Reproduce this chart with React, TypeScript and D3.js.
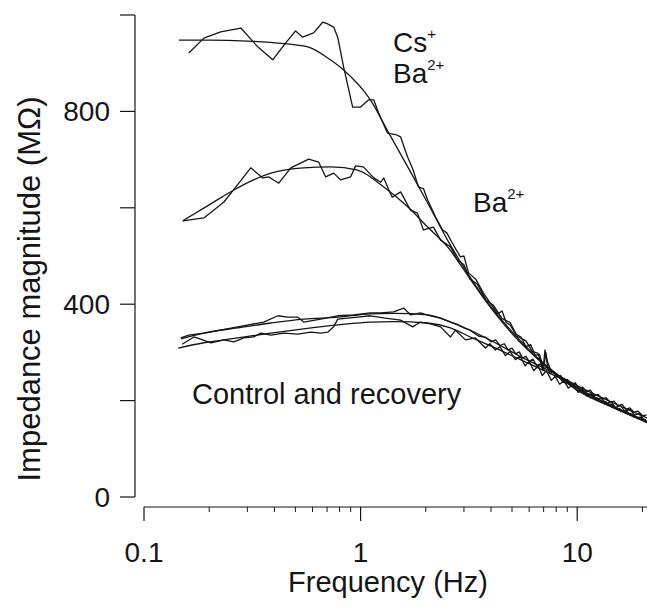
import React from "react";
import * as d3 from "d3";

type Pt = [number, number];

// Frequency (Hz), impedance magnitude (MΩ)
const csBaFit: Pt[] = [
  [0.145, 948], [0.2, 948], [0.3, 946], [0.385, 943], [0.5, 938], [0.588, 932], [0.7, 912],
  [0.835, 886], [1.11, 824], [1.35, 755], [1.65, 685], [2.04, 610], [2.52, 533],
  [3.11, 465], [3.69, 415], [5.07, 340], [6.97, 278], [10.3, 222], [14.7, 187], [21, 156],
];
const csBaData: Pt[] = [
  [0.161, 921], [0.189, 952], [0.226, 965], [0.28, 973], [0.335, 934], [0.393, 907],
  [0.451, 942], [0.501, 967], [0.54, 954], [0.607, 963], [0.668, 985], [0.7, 982],
  [0.751, 975], [0.784, 954], [0.835, 892], [0.919, 809], [1.0, 809], [1.09, 824],
  [1.15, 824], [1.21, 797], [1.33, 755], [1.45, 752], [1.53, 747], [1.65, 705], [1.75, 678],
  [1.85, 643], [1.95, 640], [2.04, 616], [2.22, 581], [2.39, 554], [2.5, 548], [2.65, 527], [2.89, 498],
  [3.0, 500], [3.15, 465], [3.4, 452], [3.69, 423], [4.0, 400], [4.3, 380], [4.5, 386], [4.7, 362],
  [4.9, 357], [5.2, 338], [5.5, 332], [5.8, 312], [6.1, 316], [6.4, 294], [6.7, 296],
  [7.0, 265], [7.15, 300], [7.3, 270], [7.7, 262], [8.2, 248], [8.8, 244], [9.4, 230],
  [10, 230], [10.8, 214], [11.6, 213], [12.5, 199], [13.5, 198], [14.5, 186], [15.6, 184],
  [16.8, 174], [18, 172], [19.3, 162], [20.8, 160],
];
const baFit: Pt[] = [
  [0.151, 573], [0.2, 606], [0.26, 637], [0.385, 672], [0.546, 683], [0.728, 685],
  [0.969, 678], [1.28, 643], [1.65, 602], [2.04, 560], [2.52, 519], [3.11, 461],
  [3.69, 413], [5.07, 336], [6.97, 276], [10.3, 218], [14.7, 185], [21, 155],
];
const baData: Pt[] = [
  [0.151, 573], [0.189, 579], [0.234, 612], [0.274, 651], [0.311, 683], [0.353, 662],
  [0.377, 664], [0.419, 651], [0.476, 683], [0.576, 701], [0.64, 695], [0.69, 664],
  [0.751, 672], [0.809, 658], [0.899, 664], [0.948, 687], [1.03, 685], [1.15, 662],
  [1.24, 653], [1.28, 662], [1.35, 637], [1.4, 622], [1.53, 633], [1.7, 595],
  [1.83, 589], [1.95, 554], [2.17, 560], [2.34, 533], [2.6, 519], [2.8, 492], [3.0, 482],
  [3.2, 452], [3.45, 442], [3.8, 408], [4.1, 398], [4.5, 370], [4.9, 362], [5.3, 333],
  [5.8, 324], [6.2, 302], [6.6, 298], [6.95, 262], [7.1, 305], [7.3, 280], [7.6, 260],
  [8.1, 254], [8.6, 238], [9.2, 236], [9.9, 222], [10.6, 220], [11.5, 206], [12.4, 205],
  [13.4, 193], [14.4, 192], [15.6, 180], [16.9, 178], [18.3, 166], [19.7, 165], [20.9, 156],
];
const ctrlFitA: Pt[] = [
  [0.148, 328], [0.189, 340], [0.271, 351], [0.385, 361], [0.546, 369], [0.784, 373],
  [1.11, 380], [1.42, 381], [2.04, 378], [2.6, 363], [3.21, 346], [4.1, 322],
  [5.29, 295], [6.54, 274], [8.36, 250], [10.3, 228], [14.7, 195], [21, 164],
];
const ctrlFitB: Pt[] = [
  [0.144, 309], [0.189, 320], [0.271, 330], [0.385, 340], [0.546, 349], [0.784, 357],
  [1.11, 363], [1.42, 364], [2.04, 361], [2.6, 351], [3.21, 332], [4.1, 311],
  [5.29, 288], [6.75, 266], [8.36, 246], [11.5, 212], [15.8, 180], [21, 154],
];
const ctrlDataA: Pt[] = [
  [0.148, 330], [0.161, 336], [0.189, 340], [0.271, 353], [0.357, 363], [0.415, 376],
  [0.461, 373], [0.513, 373], [0.546, 363], [0.654, 369], [0.784, 376], [0.929, 378],
  [1.11, 382], [1.24, 382], [1.42, 384], [1.58, 392], [1.7, 378], [1.89, 382],
  [2.1, 376], [2.34, 371], [2.6, 363], [2.8, 358], [3.0, 351], [3.2, 346], [3.5, 334],
  [3.8, 331], [4.0, 322], [4.2, 326], [4.4, 314], [4.6, 318], [4.8, 305], [5.0, 309],
  [5.2, 297], [5.4, 301], [5.6, 288], [5.8, 292], [6.0, 281], [6.25, 286], [6.5, 272],
  [6.75, 276], [7.0, 265], [7.25, 270], [7.5, 256], [7.8, 260], [8.1, 248], [8.4, 252],
  [8.7, 240], [9.0, 244], [9.4, 233], [9.8, 237], [10.2, 225], [10.6, 228], [11, 218],
  [11.5, 222], [12, 210], [12.5, 213], [13, 203], [13.6, 206], [14.2, 196], [14.8, 199],
  [15.4, 189], [16.1, 192], [16.8, 182], [17.5, 185], [18.3, 176], [19.1, 178], [20, 169],
  [20.9, 170],
];
const ctrlDataB: Pt[] = [
  [0.15, 317], [0.17, 332], [0.204, 320], [0.234, 326], [0.26, 322], [0.289, 330],
  [0.321, 332], [0.346, 340], [0.385, 336], [0.442, 340], [0.513, 338], [0.588, 342],
  [0.654, 340], [0.705, 342], [0.751, 353], [0.784, 369], [0.871, 371], [0.969, 373],
  [1.11, 376], [1.3, 371], [1.53, 367], [1.74, 353], [1.89, 363], [2.1, 359],
  [2.34, 353], [2.6, 332], [2.74, 346], [3.05, 326], [3.39, 330], [3.77, 309],
  [3.95, 318], [4.19, 305], [4.4, 312], [4.66, 293], [4.9, 302], [5.18, 285], [5.45, 292],
  [5.75, 272], [6.0, 282], [6.3, 262], [6.6, 272], [6.9, 252], [7.2, 262], [7.6, 242],
  [7.9, 250], [8.3, 234], [8.7, 241], [9.1, 226], [9.6, 233], [10.1, 217], [10.6, 223],
  [11.1, 209], [11.7, 215], [12.3, 201], [12.9, 206], [13.6, 193], [14.3, 198], [15, 186],
  [15.8, 190], [16.6, 178], [17.5, 182], [18.4, 170], [19.3, 173], [20.2, 162], [20.9, 158],
];

const yTicks = [0, 200, 400, 600, 800, 1000];
const yLabels = [0, 400, 800];
const xMajor = [0.1, 1, 10];
const xMinor = [0.2, 0.3, 0.4, 0.5, 0.6, 0.7, 0.8, 0.9, 2, 3, 4, 5, 6, 7, 8, 9, 20];
const xLabels = ["0.1", "1", "10"];

const FONT = "'Liberation Sans', Arial, Helvetica, sans-serif";
const INK = "#151515";

export default function App() {
  const W = 647, H = 609;
  const x = d3.scaleLog().domain([0.1, 21]).range([144, 647]);
  const y = d3.scaleLinear().domain([0, 1000]).range([497, 15]);
  const axisX = 135;
  const axisY = 507;

  const smooth = d3.line<Pt>().x((d) => x(d[0])).y((d) => y(d[1])).curve(d3.curveMonotoneX);
  const raw = d3.line<Pt>().x((d) => x(d[0])).y((d) => y(d[1]));

  const fits = [csBaFit, baFit, ctrlFitA, ctrlFitB];
  const datas = [csBaData, baData, ctrlDataA, ctrlDataB];

  return (
    <svg
      width={W}
      height={H}
      viewBox={`0 0 ${W} ${H}`}
      style={{ position: "absolute", left: 0, top: 0, background: "#fff" }}
      fontFamily={FONT}
    >
      <rect width={W} height={H} fill="#fff" />
      {/* Y axis */}
      <line x1={axisX} x2={axisX} y1={y(1000)} y2={y(0)} stroke={INK} strokeWidth={1.2} />
      {yTicks.map((t) => (
        <line key={t} x1={axisX - 15} x2={axisX} y1={y(t)} y2={y(t)} stroke={INK} strokeWidth={1.2} />
      ))}
      {yLabels.map((t) => (
        <text key={t} x={110} y={y(t)} dy="0.36em" textAnchor="end" fontSize={28} fill={INK}>
          {t}
        </text>
      ))}
      <text
        transform={`translate(40, 289) rotate(-90)`}
        textAnchor="middle"
        fontSize={31}
        fill={INK}
      >
        Impedance magnitude (MΩ)
      </text>

      {/* X axis */}
      <line x1={x(0.1)} x2={647} y1={axisY} y2={axisY} stroke={INK} strokeWidth={1.2} />
      {xMajor.map((t) => (
        <line key={t} x1={x(t)} x2={x(t)} y1={axisY} y2={axisY + 14} stroke={INK} strokeWidth={1.2} />
      ))}
      {xMinor.map((t) => (
        <line key={t} x1={x(t)} x2={x(t)} y1={axisY} y2={axisY + 5} stroke={INK} strokeWidth={1} />
      ))}
      {xMajor.map((t, i) => (
        <text key={t} x={x(t)} y={562} textAnchor="middle" fontSize={28} fill={INK}>
          {xLabels[i]}
        </text>
      ))}
      <text x={388} y={592} textAnchor="middle" fontSize={29} fill={INK}>
        Frequency (Hz)
      </text>

      {/* Curves */}
      {datas.map((d, i) => (
        <path key={"d" + i} d={raw(d) || ""} fill="none" stroke={INK} strokeWidth={1.3} strokeLinejoin="round" />
      ))}
      {fits.map((d, i) => (
        <path key={"f" + i} d={smooth(d) || ""} fill="none" stroke={INK} strokeWidth={1.3} />
      ))}

      {/* Labels */}
      <text x={393} y={52} fontSize={28} fill={INK}>
        Cs<tspan fontSize={15} dy={-13}>+</tspan>
      </text>
      <text x={393} y={83} fontSize={28} fill={INK}>
        Ba<tspan fontSize={15} dy={-13}>2+</tspan>
      </text>
      <text x={473} y={212} fontSize={28} fill={INK}>
        Ba<tspan fontSize={15} dy={-13}>2+</tspan>
      </text>
      <text x={192} y={404} fontSize={29} fill={INK}>
        Control and recovery
      </text>
    </svg>
  );
}
